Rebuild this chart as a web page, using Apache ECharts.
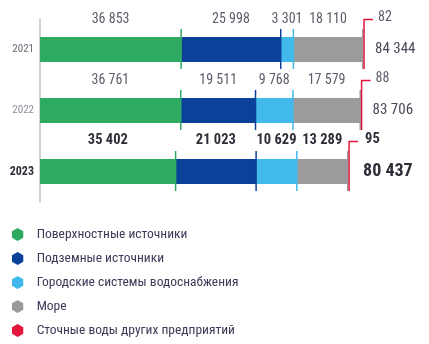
<!DOCTYPE html>
<html>
<head>
<meta charset="utf-8">
<script src="https://cdn.jsdelivr.net/npm/echarts@6/dist/echarts.min.js"></script>
<style>
  html, body { margin: 0; padding: 0; background: #ffffff; }
  #chart { width: 429px; height: 344px; }
</style>
</head>
<body>
<div id="chart"></div>
<script>
// Water intake by source, thousand m³
const years = ['2021', '2022', '2023'];
const surface = [36853, 36761, 35402];
const underground = [25998, 19511, 21023];
const cityWater = [3301, 9768, 10629];
const sea = [18110, 17579, 13289];
const wastewater = [82, 88, 95];
const totals = [84344, 83706, 80437];

const seriesNames = [
  'Поверхностные источники',
  'Подземные источники',
  'Городские системы водоснабжения',
  'Море',
  'Сточные воды других предприятий'
];
const colors = ['#2eaa62', '#0b4199', '#41b9ea', '#9b9b9b', '#e3173e'];
const FONT = '"Roboto Condensed", "Liberation Sans Narrow", "DejaVu Sans Condensed", "Arial Narrow", sans-serif';
const segments = [surface, underground, cityWater, sea];
const highlightIndex = 2; // latest year is emphasised

const fmt = v => String(v).replace(/\B(?=(\d{3})+(?!\d))/g, ' ');

function labelStyle(i) {
  return i === highlightIndex
    ? { color: '#2e2e38', fontWeight: 'bold', fontSize: 14.5 }
    : { color: '#5c5c6a', fontWeight: 'normal', fontSize: 14 };
}

const barSeries = segments.map((arr, s) => ({
  name: seriesNames[s],
  type: 'bar',
  stack: 'total',
  barWidth: 25,
  itemStyle: { color: colors[s] },
  label: { show: true, position: 'top', distance: 11, fontFamily: FONT, formatter: p => fmt(p.value) },
  data: arr.map((v, i) => ({ value: v, label: labelStyle(i) }))
}));

barSeries.push({
  name: seriesNames[4],
  type: 'bar',
  stack: 'total',
  barWidth: 25,
  itemStyle: { color: colors[4] },
  data: wastewater
});

// Boundary ticks, wastewater bracket and totals
const overlayData = years.map((y, i) => [i]);
function renderOverlay(params, api) {
  const i = api.value(0);
  const center = api.coord([0, i])[1];
  const top = center - 12.5, bottom = center + 12.5;
  const children = [];
  let cum = 0;
  segments.forEach((arr, s) => {
    cum += arr[i];
    const x = api.coord([cum, i])[0];
    children.push({
      type: 'line',
      shape: { x1: x, y1: top - 8, x2: x, y2: bottom + 7 },
      style: { stroke: colors[s], lineWidth: 1.5 }
    });
  });
  const hl = i === highlightIndex;
  const xr = api.coord([totals[i], i])[0] + 1;
  const yb = center - 30;
  children.push({
    type: 'polyline',
    shape: { points: [[xr, bottom + 7], [xr, yb], [xr + 9, yb]] },
    style: { stroke: colors[4], lineWidth: 1.5, fill: null }
  });
  const st = labelStyle(i);
  children.push({
    type: 'text',
    style: {
      x: xr + (hl ? 16 : 14), y: yb - 2, text: fmt(wastewater[i]),
      fill: st.color, fontFamily: FONT, fontWeight: st.fontWeight, fontSize: st.fontSize,
      verticalAlign: 'middle', align: 'left'
    }
  });
  children.push({
    type: 'text',
    style: {
      x: xr + (hl ? 14 : 11), y: center, text: fmt(totals[i]),
      fill: hl ? '#2e2e38' : '#4a4a58', fontFamily: FONT,
      fontWeight: hl ? 'bold' : 'normal', fontSize: hl ? 18 : 15,
      verticalAlign: 'middle', align: 'left'
    }
  });
  return { type: 'group', children };
}

const chart = echarts.init(document.getElementById('chart'), null, { renderer: 'canvas' });
chart.setOption({
  animation: false,
  textStyle: { fontFamily: FONT },
  grid: { left: 40, right: 6, top: 19, bottom: 142 },
  legend: {
    orient: 'vertical',
    left: 7,
    top: 221,
    height: 122,
    itemWidth: 12,
    itemHeight: 13,
    itemGap: 7,
    icon: 'path://M50,0 L93.3,25 L93.3,75 L50,100 L6.7,75 L6.7,25 Z',
    data: seriesNames,
    textStyle: { fontFamily: FONT, fontSize: 13.5, lineHeight: 17, color: '#3b3b58', padding: [0, 0, 0, 8] },
    selectedMode: false
  },
  xAxis: { type: 'value', min: 0, max: 100000, show: false },
  yAxis: {
    type: 'category',
    data: years,
    inverse: true,
    axisLine: { show: true, lineStyle: { color: '#c4c4c4', width: 1.5 } },
    axisTick: { show: false },
    axisLabel: {
      margin: 6,
      fontFamily: FONT,
      formatter: (v, i) => i === 2 ? '{b|' + v + '}' : (i === 1 ? '{l|' + v + '}' : '{n|' + v + '}'),
      rich: {
        n: { color: '#6a6a78', fontSize: 11, fontFamily: FONT },
        l: { color: '#8e8ea0', fontSize: 11, fontFamily: FONT },
        b: { color: '#2e2e38', fontSize: 12, fontWeight: 'bold', fontFamily: FONT }
      }
    }
  },
  series: barSeries.concat([{
    type: 'custom',
    name: 'overlay',
    renderItem: renderOverlay,
    data: overlayData,
    encode: { y: 0 },
    z: 10,
    silent: true
  }])
});
</script>
</body>
</html>
